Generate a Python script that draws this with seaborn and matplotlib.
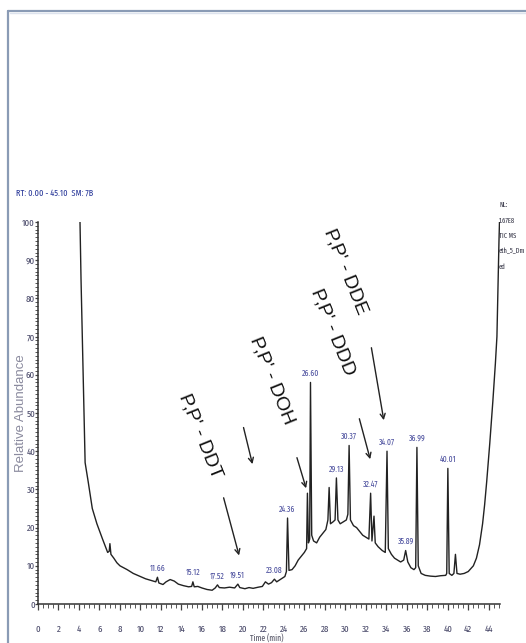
import os
import matplotlib
matplotlib.use("Agg")
import matplotlib.pyplot as plt
from matplotlib.lines import Line2D
from matplotlib.ticker import MultipleLocator
from matplotlib import font_manager as fm
import pandas as pd
import seaborn as sns

# Total ion chromatogram: retention time (min) and relative abundance (%)
rt = [
    4.10, 4.20, 4.45, 4.60, 4.90, 5.30, 5.75, 6.30, 6.80, 6.95, 7.02, 7.12, 7.40, 7.70,
    8.00, 8.70, 9.30, 10.0, 10.5, 11.0, 11.5, 11.66, 11.80, 12.2, 12.5, 12.9, 13.3, 13.7,
    14.2, 14.7, 15.0, 15.12, 15.25, 15.6, 16.0, 16.5, 17.0, 17.3, 17.52, 17.7, 18.2, 18.7,
    19.2, 19.51, 19.7, 20.2, 20.6, 21.0, 21.5, 21.9, 22.2, 22.5, 22.8, 23.08, 23.3, 23.7,
    24.1, 24.25, 24.36, 24.50, 24.8, 25.1, 25.4, 25.7, 26.0, 26.22, 26.30, 26.40, 26.52,
    26.60, 26.72, 26.9, 27.2, 27.5, 27.8, 28.1, 28.3, 28.42, 28.55, 28.8, 29.0, 29.13,
    29.28, 29.5, 29.8, 30.1, 30.25, 30.37, 30.50, 30.8, 31.1, 31.4, 31.7, 32.0, 32.3,
    32.47, 32.60, 32.80, 32.92, 33.2, 33.6, 33.9, 34.07, 34.20, 34.5, 34.8, 35.1, 35.4,
    35.7, 35.89, 36.1, 36.4, 36.7, 36.87, 36.99, 37.12, 37.4, 37.8, 38.3, 38.8, 39.3,
    39.8, 39.9, 40.01, 40.14, 40.4, 40.6, 40.75, 40.9, 41.2, 41.6, 42.0, 42.5, 42.8,
    43.1, 43.4, 43.6, 43.8, 44.1, 44.4, 44.65, 44.8, 44.9, 45.0, 45.05,
]
abundance = [
    100.0, 85.0, 55.0, 37.0, 32.0, 25.0, 21.0, 17.0, 13.5, 13.8, 15.8, 13.0, 12.0, 10.8,
    10.0, 9.0, 8.0, 7.2, 6.6, 6.2, 5.8, 7.0, 5.5, 5.1, 5.8, 6.4, 6.0, 5.2,
    4.8, 4.5, 4.6, 5.8, 4.5, 4.6, 4.2, 3.8, 3.6, 4.2, 5.0, 4.3, 4.2, 4.4,
    4.2, 5.2, 4.3, 4.0, 4.3, 4.1, 4.4, 4.6, 5.8, 5.2, 5.6, 6.5, 5.8, 6.5,
    7.2, 8.5, 22.5, 8.8, 9.0, 10.0, 11.5, 12.5, 13.5, 14.5, 29.0, 16.0, 17.0,
    58.0, 18.0, 16.5, 16.0, 17.5, 18.5, 19.5, 22.0, 30.5, 21.0, 21.5, 22.0, 33.0,
    22.0, 21.0, 21.5, 22.0, 23.5, 41.5, 22.0, 20.5, 20.0, 19.0, 18.0, 17.5, 17.0,
    29.0, 16.5, 23.0, 16.0, 15.0, 14.0, 13.5, 40.0, 14.5, 13.0, 12.0, 11.5, 11.0,
    11.5, 14.0, 11.0, 9.5, 9.0, 9.5, 41.0, 10.0, 8.0, 7.5, 7.3, 7.2, 7.4,
    7.5, 8.0, 35.5, 8.0, 7.5, 8.0, 13.0, 8.0, 7.8, 8.0, 8.5, 10.0, 12.0,
    15.5, 21.0, 26.0, 32.0, 42.0, 53.0, 63.0, 70.0, 83.0, 95.0, 100.0,
]

# Retention times printed above the detected peaks
labeled_rt = [11.66, 15.12, 17.52, 19.51, 23.08, 24.36, 26.60, 29.13, 30.37,
              32.47, 34.07, 35.89, 36.99, 40.01]

# Compound callouts
compounds = ["P,P' - DDT", "P,P' - DOH", "P,P' - DDD", "P,P' - DDE"]

x_major = list(range(0, 45, 2))
y_major = list(range(0, 101, 10))
side_lines = ["NL:", "1.67E8", "TIC MS", "eth_5_Dm", "ed"]


def narrow_font():
    """Pick the narrowest regular sans face available, else Liberation Sans."""
    bad = ("bold", "light", "thin", "black", "medium", "semibold", "italic",
           "extrabold", "oblique", "mono", "serif", "cjk")
    ranked = []
    for f in fm.fontManager.ttflist:
        base = os.path.basename(f.fname).lower()
        if any(b in base for b in bad) or f.style != "normal":
            continue
        if "extracondensed" in base or "ultracondensed" in base:
            rank = 0
        elif "narrow" in base:
            rank = 1
        elif "condensed" in base and "semicondensed" not in base:
            rank = 2
        elif "semicondensed" in base:
            rank = 3
        else:
            continue
        ranked.append((rank, base, f.fname))
    if ranked:
        ranked.sort()
        return fm.FontProperties(fname=ranked[0][2])
    return fm.FontProperties(family="Liberation Sans")


sns.set_style("ticks")
plt.rcParams["font.family"] = ["Liberation Sans", "DejaVu Sans"]
NARROW = narrow_font()


def nfp(size):
    fp = NARROW.copy()
    fp.set_size(size)
    return fp


W, H = 526, 643
fig = plt.figure(figsize=(W / 100, H / 100), dpi=100)
fig.patch.set_facecolor("white")

ax = fig.add_axes([38 / W, (H - 604) / H, (500 - 38) / W, (604 - 222) / H])
df = pd.DataFrame({"rt": rt, "abundance": abundance})
sns.lineplot(data=df, x="rt", y="abundance", ax=ax, color="#222222",
             linewidth=1.0, estimator=None, sort=False)

ax.set_xlim(0, 45.10)
ax.set_ylim(0, 100)
ax.set_xlabel("")
ax.set_ylabel("")
for s in ("top", "right"):
    ax.spines[s].set_visible(False)
for s in ("left", "bottom"):
    ax.spines[s].set_color("#333333")
    ax.spines[s].set_linewidth(1.1)

ax.set_xticks(x_major)
ax.set_xticklabels([str(v) for v in x_major])
ax.set_yticks(y_major)
ax.set_yticklabels([str(v) for v in y_major])
ax.xaxis.set_minor_locator(MultipleLocator(0.5))
ax.yaxis.set_minor_locator(MultipleLocator(1))
ax.tick_params(axis="x", which="major", length=4.3, width=0.9, color="#444444",
               pad=11, labelcolor="#4a4a6a")
ax.tick_params(axis="x", which="minor", length=2.6, width=0.7, color="#555555")
ax.tick_params(axis="y", which="major", length=2.4, width=0.9, color="#444444",
               pad=-0.3, labelcolor="#4a4a6a")
ax.tick_params(axis="y", which="minor", length=2.0, width=0.7, color="#555555")
for lbl in ax.get_xticklabels() + ax.get_yticklabels():
    lbl.set_fontproperties(nfp(7))
ax.patch.set_alpha(0)

# Peak retention-time labels
lookup = dict(zip(rt, abundance))
for r in labeled_rt:
    ax.text(r, lookup[r] + 1.2, f"{r:.2f}", ha="center", va="bottom",
            fontproperties=nfp(6), color="#4b4f9e")

# Compound callouts with arrows
callout_text = [(15.8, 44.0), (22.8, 58.4), (28.8, 71.2), (30.05, 86.9)]
arrows = [
    ((18.05, 28.5), (19.7, 12.0)),
    ((25.2, 39.0), (26.25, 29.6)),
    ((31.3, 49.2), (32.5, 37.2)),
    ((32.5, 67.8), (33.8, 47.4)),
]
for name, (tx, ty), (a0, a1) in zip(compounds, callout_text, arrows):
    ax.text(tx, ty, name, rotation=-68, rotation_mode="anchor", ha="center",
            va="center", fontsize=14, color="#111111")
    ax.annotate("", xy=a1, xytext=a0,
                arrowprops=dict(arrowstyle="->", color="#222222", lw=1.0,
                                mutation_scale=9))
# Unlabelled arrow near 21 min
ax.annotate("", xy=(21.0, 35.9), xytext=(20.0, 46.9),
            arrowprops=dict(arrowstyle="->", color="#222222", lw=1.0, mutation_scale=9))

# Header and side texts
fig.text(16 / W, 1 - 193 / H, "RT: 0.00 - 45.10  SM: 7B", fontproperties=nfp(6.5),
         color="#2b3a9a", va="center", ha="left")
fig.text(21 / W, 1 - 413 / H, "Relative Abundance", rotation=90, fontsize=9.5,
         color="#8a8a9e", va="center", ha="center")
for i, line in enumerate(side_lines):
    fig.text(499 / W, 1 - (205 + 15.5 * i) / H, line, fontproperties=nfp(5.1),
             color="#333344", va="center", ha="left")
fig.text(267 / W, 1 - 639 / H, "Time (min)", fontproperties=nfp(6),
         color="#555566", va="center", ha="center")

# Window frame
frame = "#8a9bb5"
fig.add_artist(Line2D([8 / W, 1], [1 - 11 / H, 1 - 11 / H], transform=fig.transFigure,
                      color=frame, lw=1.6))
fig.add_artist(Line2D([8 / W, 8 / W], [0, 1 - 11 / H], transform=fig.transFigure,
                      color=frame, lw=1.6))
fig.add_artist(Line2D([10 / W, 1], [1 - 13 / H, 1 - 13 / H], transform=fig.transFigure,
                      color="#dde3ee", lw=1.0))

fig.savefig("out.png", dpi=100)
